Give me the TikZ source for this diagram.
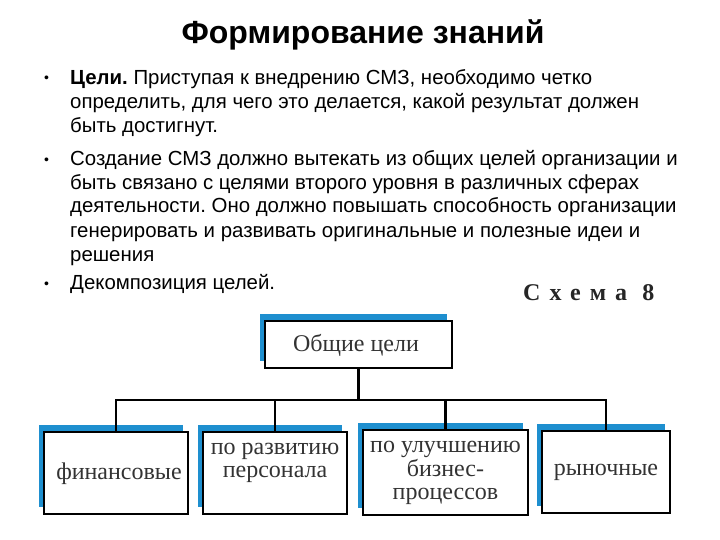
\documentclass[tikz,border=0pt]{standalone}
\usepackage{fontspec}
\setmainfont{Liberation Serif}
\newfontfamily\arialf{Liberation Sans}
\newfontfamily\schemaf[LetterSpace=38]{Liberation Serif}
\usetikzlibrary{shadows}
\definecolor{shblue}{HTML}{1E8FCF}
\definecolor{boxtext}{HTML}{333333}
\frenchspacing
\tikzset{
  body/.style={anchor=base west, inner sep=0pt, font=\arialf\fontsize{20.4}{24}\selectfont},
  bul/.style={anchor=base west, inner sep=0pt, font=\arialf\fontsize{14}{16}\selectfont},
  goalbox/.style={draw=black, line width=2.5pt, fill=white, inner sep=0pt,
    general shadow={fill=shblue, draw=none, shadow xshift=-5pt, shadow yshift=7pt}},
  boxlabel/.style={inner sep=0pt, align=center, text=boxtext,
    font=\fontsize{24}{23.5}\selectfont},
  link/.style={draw=black, line width=2.5pt}
}
\begin{document}
\begin{tikzpicture}[x=1pt,y=-1pt]
\useasboundingbox[fill=white] (0,0) rectangle (720,540);
% title
\node[anchor=base, inner sep=0pt, font=\arialf\bfseries\fontsize{32}{36}\selectfont] (title) at (363,44) {Формирование знаний};
% bullets
\node[bul] (bu1) at (44,83) {•};
\node[bul] (bu2) at (44,165) {•};
\node[bul] (bu3) at (44,288) {•};
\node[body] (l1) at (70,85) {\textbf{Цели.} Приступая к внедрению СМЗ, необходимо четко};
\node[body] (l2) at (70,109) {определить, для чего это делается, какой результат должен};
\node[body] (l3) at (70,133) {быть достигнут.};
\node[body] (l4) at (70,166) {Создание СМЗ должно вытекать из общих целей организации и};
\node[body] (l5) at (70,190) {быть связано с целями второго уровня в различных сферах};
\node[body] (l6) at (70,213) {деятельности. Оно должно повышать способность организации};
\node[body] (l7) at (70,237) {генерировать и развивать оригинальные и полезные идеи и};
\node[body] (l8) at (70,261) {решения};
\node[body] (l9) at (70,289) {Декомпозиция целей.};
% schema label
\node[anchor=base west, inner sep=0pt, text=black!85, font=\schemaf\bfseries\fontsize{24}{26}\selectfont] (schema) at (523,300) {Схема 8};
% boxes
\node[goalbox, minimum width=187pt, minimum height=47pt] (top) at (358.5,344.5) {};
\node[goalbox, minimum width=144pt, minimum height=82pt] (b1) at (116,473) {};
\node[goalbox, minimum width=144pt, minimum height=82pt] (b2) at (275,473) {};
\node[goalbox, minimum width=165pt, minimum height=85pt] (b3) at (445.5,472.5) {};
\node[goalbox, minimum width=128pt, minimum height=82pt] (b4) at (606,472) {};
% box texts
\node[boxlabel] (t0) at (356,345) {Общие цели};
\node[boxlabel] (t1) at (119,474) {финансовые};
\node[boxlabel] (t2) at (275,463) {по развитию\\персонала};
\node[boxlabel] (t3) at (445.5,473) {по улучшению\\бизнес-\\процессов};
\node[boxlabel] (t4) at (606,472) {рыночные};
% connectors
\coordinate (bus) at (0,400);
\draw[link] (top.south) -- (top.south |- bus);
\draw[link, line cap=rect] (b1.north |- bus) -- (b4.north |- bus);
\draw[link] (b1.north |- bus) -- (b1.north);
\draw[link] (b2.north |- bus) -- (b2.north);
\draw[link] (b3.north |- bus) -- (b3.north);
\draw[link] (b4.north |- bus) -- (b4.north);
\end{tikzpicture}
\end{document}
